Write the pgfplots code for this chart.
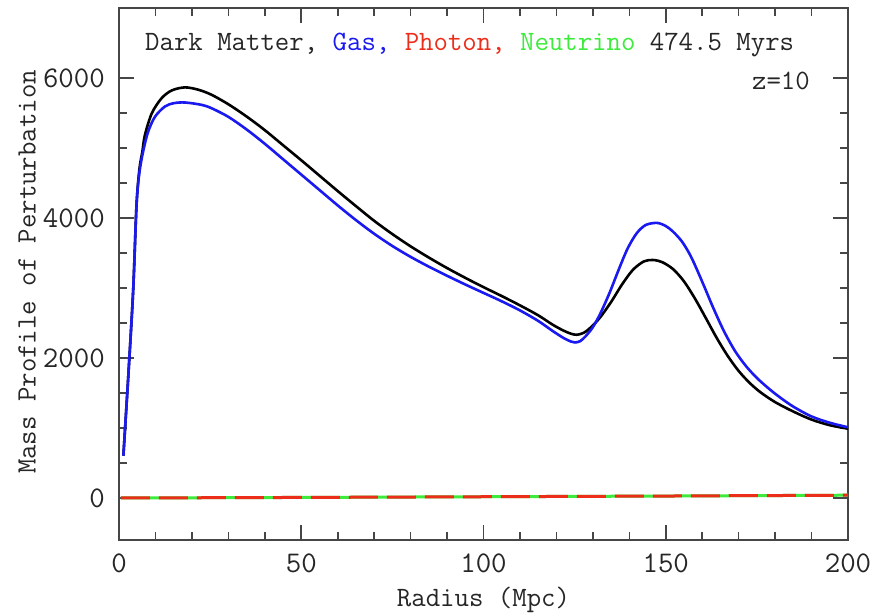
\documentclass[border=0pt]{standalone}
\usepackage{pgfplots}
\pgfplotsset{compat=1.18}
\definecolor{frame}{RGB}{70,70,70}
\definecolor{gasblue}{RGB}{25,25,240}
\definecolor{phred}{RGB}{235,45,25}
\definecolor{nugreen}{RGB}{60,235,60}
\begin{document}
\begin{tikzpicture}
\useasboundingbox (-119bp,-76bp) rectangle (756bp,540bp);
\begin{axis}[at={(0,0)}, anchor=south west, scale only axis,
  width=729bp, height=532bp,
  xmin=0, xmax=200, ymin=-600, ymax=7000,
  xtick={0,50,100,150,200}, minor x tick num=4,
  ytick={0,2000,4000,6000}, minor y tick num=3,
  tick pos=both, tick align=inside,
  major tick length=15bp, minor tick length=8bp,
  tick style={frame, line width=1.6bp},
  axis line style={frame, line width=2bp},
  /pgf/number format/assume math mode=true,
  /pgf/number format/1000 sep={},
  ticklabel style={font=\ttfamily\fontsize{30bp}{34bp}\selectfont, inner sep=0pt, text=black!85},
  xticklabel style={anchor=center, yshift=-23bp},
  yticklabel style={anchor=east, xshift=-14bp},
]
\addplot[nugreen, line width=3bp] coordinates {(0.5,0) (50,8) (100,18) (150,28) (200,40)};
\addplot[phred, line width=3bp, dash pattern=on 29bp off 9bp] coordinates {(0.5,0) (50,8) (100,18) (150,28) (200,40)};
\addplot[black, line width=2.6bp, smooth] coordinates {
(1.2,604) (2.6,1784) (3.9,2978) (4.8,4177) (5.6,4700) (6.4,4945) (7.1,5184) (9.0,5496)
(11.7,5712) (14.5,5823) (18.1,5866) (21.8,5832) (25.4,5760) (30,5625) (35,5450) (40,5255)
(45,5040) (50,4825) (55,4605) (60,4385) (65,4170) (70,3960) (75,3770) (80,3595)
(85,3435) (90,3285) (95,3145) (100,3012) (105,2885) (110,2752) (115,2610) (119,2475)
(122,2390) (124,2347) (125.6,2332) (127.5,2360) (129.5,2440) (132,2580) (135,2800)
(138,3050) (141,3260) (144,3380) (146.5,3400) (149,3370) (152,3270) (155,3095)
(158,2850) (161,2570) (164,2285) (167,2030) (170,1815) (173,1645) (176,1510)
(180,1370) (185,1235) (190,1120) (195,1040) (200,990)};
\addplot[gasblue, line width=2.6bp, smooth] coordinates {
(1.2,604) (2.6,1784) (3.9,2978) (4.8,4177) (5.6,4650) (6.7,4969) (8.0,5233) (9.9,5449)
(12.6,5593) (15,5640) (18.1,5650) (22.7,5616) (25.4,5568) (30,5445) (35,5265) (40,5060)
(45,4840) (50,4620) (55,4400) (60,4180) (65,3970) (70,3775) (75,3600) (80,3445)
(85,3305) (90,3175) (95,3050) (100,2930) (105,2810) (110,2680) (115,2530) (119,2385)
(122,2285) (124,2235) (125.1,2222) (126.5,2240) (128,2310) (130,2440) (132,2630)
(134.5,2920) (137,3250) (139.5,3560) (142,3780) (144.5,3900) (147.6,3930) (150,3885)
(152,3805) (154.5,3660) (157,3440) (160,3090) (163,2720) (166,2380) (169,2100)
(172,1885) (175,1715) (178,1575) (181,1450) (185,1305) (190,1165) (195,1075) (200,1010)};
\end{axis}
\begin{scope}[every node/.style={inner sep=0pt, text=black!85, font=\ttfamily\fontsize{28bp}{32bp}\selectfont}]
\node[anchor=base west] at (26bp,489bp) {Dark Matter, \textcolor{gasblue}{Gas,} \textcolor{phred}{Photon,} \textcolor{nugreen}{Neutrino} 474.5 Myrs};
\node[anchor=base east] at (691bp,450bp) {z=10};
\node[anchor=center] at (364.5bp,-60bp) {Radius (Mpc)};
\node[anchor=center, rotate=90] at (-92bp,268bp) {Mass Profile of Perturbation};
\end{scope}
\end{tikzpicture}
\end{document}
